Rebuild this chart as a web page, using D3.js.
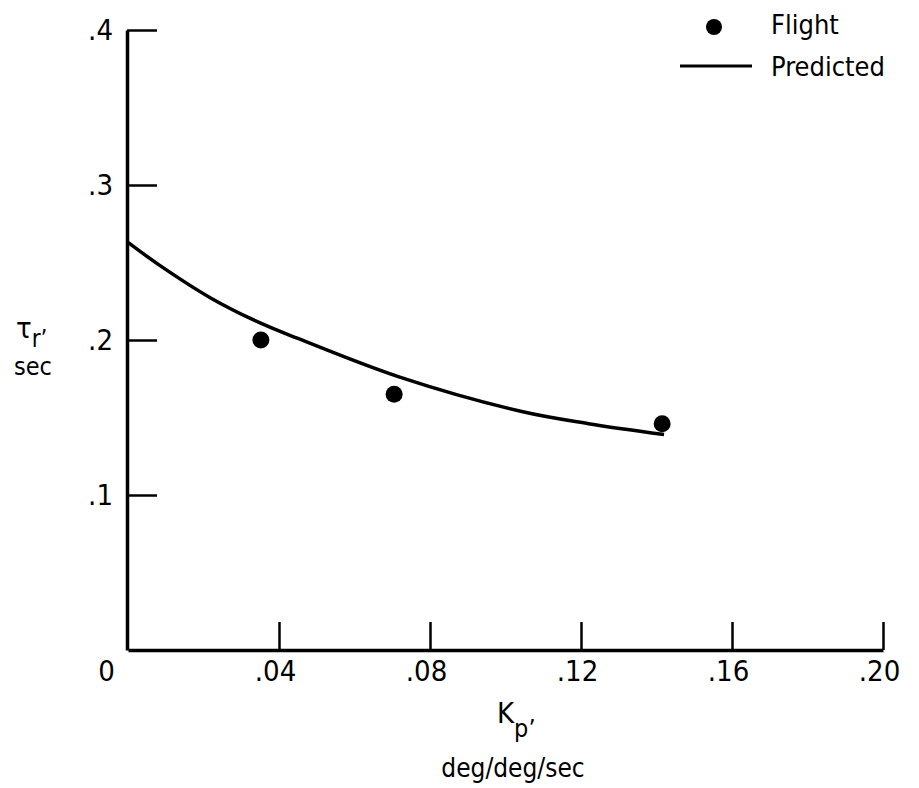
<!DOCTYPE html>
<html>
<head>
<meta charset="utf-8">
<script src="https://cdn.jsdelivr.net/npm/d3@7"></script>
<style>
  body { margin: 0; background: #fff; }
  svg text { font-family: "Liberation Sans Narrow", "DejaVu Sans Condensed", "Roboto Condensed", sans-serif; fill: #000; }
</style>
</head>
<body>
<svg id="chart" width="919" height="788"></svg>
<script>
// flight test points
var flightK = [0.0352, 0.0705, 0.1415];
var flightTau = [0.200, 0.165, 0.146];

// predicted curve
var predK = [0, 0.0085, 0.022, 0.035, 0.045, 0.072, 0.104, 0.122, 0.142];
var predTau = [0.263, 0.248, 0.227, 0.211, 0.201, 0.176, 0.154, 0.146, 0.139];

var xTicks = [0, 0.04, 0.08, 0.12, 0.16, 0.20];
var xTickLabels = ["0", ".04", ".08", ".12", ".16", ".20"];
var yTicks = [0.1, 0.2, 0.3, 0.4];
var yTickLabels = [".1", ".2", ".3", ".4"];

var svg = d3.select('#chart');

var x = d3.scaleLinear().domain([0, 0.2]).range([128, 883]);
var y = d3.scaleLinear().domain([0, 0.4]).range([650, 30]);

// x axis, ticks pointing up
var gx = svg.append('g')
    .attr('transform', 'translate(0,' + y(0) + ')')
    .call(d3.axisBottom(x).tickValues(xTicks).tickSizeInner(-28).tickSizeOuter(0)
        .tickFormat(function(d, i) { return xTickLabels[i]; }));
gx.select('.domain').attr('stroke-width', 3.5).attr('stroke', '#000');
gx.selectAll('.tick line').attr('stroke-width', 2.5).attr('stroke', '#000');
gx.selectAll('.tick').filter(function(d) { return d === 0; }).select('line').remove();
gx.selectAll('.tick text')
    .attr('y', 31).attr('dy', 0)
    .attr('dx', function(d) { return d === 0 ? -22 : -4; })
    .style('font-size', '29px');

// y axis, ticks pointing right
var gy = svg.append('g')
    .attr('transform', 'translate(' + (x(0) - 1) + ',0)')
    .call(d3.axisLeft(y).tickValues(yTicks).tickSizeInner(-30).tickSizeOuter(0)
        .tickFormat(function(d, i) { return yTickLabels[i]; }));
gy.select('.domain').attr('stroke-width', 3.5).attr('stroke', '#000');
gy.selectAll('.tick line').attr('stroke-width', 2.5).attr('stroke', '#000');
gy.selectAll('.tick text')
    .attr('x', -14).attr('dy', '0.32em')
    .style('font-size', '29px');

// predicted curve
var predData = predK.map(function(k, i) { return [k, predTau[i]]; });
var line = d3.line()
    .x(function(d) { return x(d[0]); })
    .y(function(d) { return y(d[1]); })
    .curve(d3.curveCatmullRom);

svg.append('path')
    .datum(predData)
    .attr('d', line)
    .attr('fill', 'none')
    .attr('stroke', '#000')
    .attr('stroke-width', 3.5);

// flight points
svg.selectAll('circle.flight')
    .data(flightK)
    .enter().append('circle')
    .attr('class', 'flight')
    .attr('cx', function(d) { return x(d); })
    .attr('cy', function(d, i) { return y(flightTau[i]); })
    .attr('r', 8.5)
    .attr('fill', '#000');

// axis titles
var ty = svg.append('text').attr('x', 16).attr('y', 338).style('font-size', '29px');
ty.append('tspan').text('\u03c4');
ty.append('tspan').attr('dy', 9).style('font-size', '24px').text('r\u2019');
svg.append('text').attr('x', 33).attr('y', 375).attr('text-anchor', 'middle')
    .style('font-size', '25px').text('sec');

var tx = svg.append('text').attr('x', 497).attr('y', 723).style('font-size', '29px');
tx.append('tspan').text('K');
tx.append('tspan').attr('dy', 14).style('font-size', '25px').text('p\u2019');
svg.append('text').attr('x', 513).attr('y', 777).attr('text-anchor', 'middle')
    .style('font-size', '26px').text('deg/deg/sec');

// legend
svg.append('circle').attr('cx', 714).attr('cy', 27).attr('r', 8).attr('fill', '#000');
svg.append('text').attr('x', 771).attr('y', 34).style('font-size', '27px').text('Flight');
svg.append('line').attr('x1', 680).attr('x2', 752).attr('y1', 66).attr('y2', 66)
    .attr('stroke', '#000').attr('stroke-width', 3);
svg.append('text').attr('x', 771).attr('y', 76).style('font-size', '27px').text('Predicted');
</script>
</body>
</html>
